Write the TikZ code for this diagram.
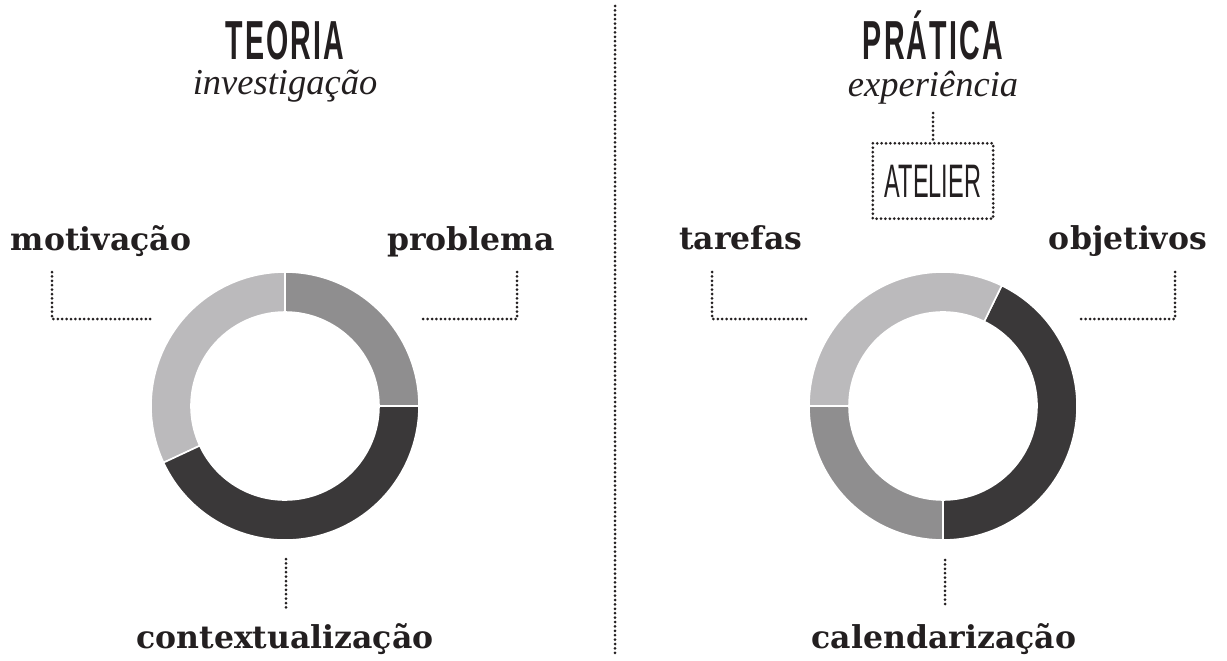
\documentclass[tikz,border=0pt]{standalone}
\usepackage{fontspec}
\setmainfont{DejaVu Serif}
\newfontfamily\titlefont[FakeStretch=0.52,LetterSpace=4]{Liberation Sans}
\newfontfamily\atelierfont[FakeStretch=0.5]{Liberation Sans}
\newfontfamily\subfont{Liberation Serif}
\definecolor{ink}{HTML}{231F20}
\definecolor{lightseg}{HTML}{BBBABC}
\definecolor{midseg}{HTML}{8F8E8F}
\definecolor{darkseg}{HTML}{3A3839}
\tikzset{
  title/.style={anchor=base,inner sep=0pt,text=ink,font=\titlefont\bfseries\fontsize{55}{55}\selectfont},
  subtitle/.style={anchor=base,inner sep=0pt,text=ink,font=\subfont\itshape\fontsize{36.5}{36.5}\selectfont},
  label/.style={anchor=base,inner sep=0pt,text=ink,font=\bfseries\fontsize{31.5}{31.5}\selectfont},
  dotline/.style={ink,line width=3pt,line cap=round,dash pattern=on 0pt off 4.4pt},
  seg/.style={draw=white,line width=1.6pt},
}
\newcommand{\donutseg}[5]{% cx cy a1 a2 colour (screen angles, y down)
  \fill[#5,seg] (#1,#2) ++(#3:134) arc[start angle=#3,end angle=#4,radius=134]
    -- ($(#1,#2)+(#4:94)$) arc[start angle=#4,end angle=#3,radius=94] -- cycle;}
\usetikzlibrary{calc}
\begin{document}
\begin{tikzpicture}[x=1pt,y=-1pt]
\useasboundingbox (0,0) rectangle (1227,661);
% divider
\coordinate (divtop) at (615,6);
\coordinate (divbot) at (615,655);
\draw[dotline] (divtop) -- (divbot);

% ---------- left: TEORIA ----------
\node[title] (teoria) at (285,60) {TEORIA};
\node[subtitle] (investig) at (285,95) {investigação};

\donutseg{285}{406}{0}{-90}{midseg}
\donutseg{285}{406}{-90}{-205}{lightseg}
\donutseg{285}{406}{-205}{-360}{darkseg}

\node[label] (motiv) at (101,250) {motivação};
\node[label] (probl) at (471,250) {problema};
\node[label] (context) at (285,648) {contextualização};

\coordinate (m1) at (52,272);
\coordinate (m2) at (52,319);
\coordinate (m3) at (152,319);
\draw[dotline] (m1) -- (m2) -- (m3);
\coordinate (p1) at (517,272);
\coordinate (p2) at (517,319);
\coordinate (p3) at (420,319);
\draw[dotline] (p1) -- (p2) -- (p3);
\coordinate (c1) at (286,559);
\coordinate (c2) at (286,608);
\draw[dotline] (c1) -- (c2);

% ---------- right: PRATICA ----------
\node[title] (pratica) at (933,60) {PRÁTICA};
\node[subtitle] (experi) at (933,96) {experiência};
\node[draw=none,minimum width=120pt,minimum height=75pt,inner sep=0pt,text=ink,
      font=\atelierfont\fontsize{47}{47}\selectfont] (atelier) at (933,181) {ATELIER};
\draw[dotline] (atelier.north west) rectangle (atelier.south east);
\coordinate (a1) at (933,113);
\draw[dotline] (a1) -- (atelier.north);

\donutseg{943}{406}{-64}{90}{darkseg}
\donutseg{943}{406}{90}{180}{midseg}
\donutseg{943}{406}{180}{296}{lightseg}

\node[label] (taref) at (741,249) {tarefas};
\node[label] (objet) at (1128,249) {objetivos};
\node[label] (calend) at (944,648) {calendarização};

\coordinate (t1) at (712,272);
\coordinate (t2) at (712,319);
\coordinate (t3) at (810,319);
\draw[dotline] (t1) -- (t2) -- (t3);
\coordinate (o1) at (1175,272);
\coordinate (o2) at (1175,319);
\coordinate (o3) at (1078,319);
\draw[dotline] (o1) -- (o2) -- (o3);
\coordinate (k1) at (945,560);
\coordinate (k2) at (945,608);
\draw[dotline] (k1) -- (k2);
\end{tikzpicture}
\end{document}
